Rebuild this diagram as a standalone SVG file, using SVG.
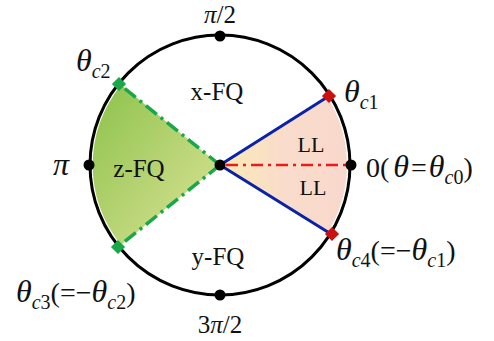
<svg xmlns="http://www.w3.org/2000/svg" width="494" height="341" viewBox="0 0 494 341">
<defs>
<linearGradient id="gG" x1="0" y1="0" x2="1" y2="1">
<stop offset="0" stop-color="#8cc24a"/>
<stop offset="1" stop-color="#dfe49a"/>
</linearGradient>
<linearGradient id="gP" x1="0" y1="0" x2="1" y2="0">
<stop offset="0" stop-color="#fbeab4"/>
<stop offset="0.5" stop-color="#f9dccb"/>
<stop offset="1" stop-color="#f8d8cc"/>
</linearGradient>
<style>
text{font-family:"Liberation Serif","Times New Roman",serif;fill:#111}
.lab{font-size:25px}
.th{font-size:32px;font-style:italic}
.sub{font-size:20px;font-style:italic}
.n{font-style:normal}
.blue{stroke:#0a22a8;stroke-width:3;fill:none}
.green{stroke:#18a84a;stroke-width:3.5;fill:none;stroke-dasharray:14 5 3 5}
.red{stroke:#e81c1c;stroke-width:2.5;fill:none;stroke-dasharray:12 5 3 5}
</style>
</defs>
<rect width="494" height="341" fill="#fff"/>
<g id="sectors">
<path d="M220,165 L121,85 A127,127 0 0 0 121,245 Z" fill="url(#gG)"/>
<path d="M220,165 L327.7,97.7 A127,127 0 0 1 327.7,232.3 Z" fill="url(#gP)"/>
</g>
<g id="circle">
<circle cx="220" cy="165" r="130" fill="none" stroke="#000" stroke-width="3"/>
</g>
<g id="connectors">
<line class="blue" x1="220" y1="165" x2="329" y2="96"/>
<line class="blue" x1="220" y1="165" x2="331" y2="234"/>
<line class="green" x1="220" y1="165" x2="119" y2="84"/>
<line class="green" x1="220" y1="165" x2="118" y2="247"/>
<line class="red" x1="226" y1="165" x2="350" y2="165"/>
</g>
<g id="points">
<circle cx="220" cy="36" r="5.5" fill="#000"/>
<circle cx="220" cy="295" r="5.5" fill="#000"/>
<circle cx="89" cy="165" r="5.5" fill="#000"/>
<circle cx="351" cy="165" r="5.5" fill="#000"/>
<circle cx="220" cy="165" r="5.5" fill="#000"/>
<rect x="-5" y="-5" width="10" height="10" fill="#cc1010" transform="translate(329,96) rotate(45)"/>
<rect x="-5" y="-5" width="10" height="10" fill="#cc1010" transform="translate(332,234) rotate(45)"/>
<rect x="-5" y="-5" width="10" height="10" fill="#18a84a" transform="translate(119,84) rotate(45)"/>
<rect x="-5" y="-5" width="10" height="10" fill="#18a84a" transform="translate(118,247) rotate(45)"/>
</g>
<g id="labels">
<text x="220" y="23" text-anchor="middle" font-size="25"><tspan font-style="italic">π</tspan>/2</text>
<text x="220" y="333" text-anchor="middle" font-size="25">3<tspan font-style="italic">π</tspan>/2</text>
<text x="53" y="175" class="th" font-size="35">π</text>
<text x="217" y="100" class="lab" text-anchor="middle">x-FQ</text>
<text x="139" y="177" class="lab" text-anchor="middle">z-FQ</text>
<text x="218" y="265" class="lab" text-anchor="middle">y-FQ</text>
<text x="311" y="152" font-size="22" text-anchor="middle">LL</text>
<text x="313" y="195" font-size="22" text-anchor="middle">LL</text>
<text x="76" y="71"><tspan class="th">θ</tspan><tspan class="sub" dy="7">c<tspan class="n">2</tspan></tspan></text>
<text x="344" y="102"><tspan class="th">θ</tspan><tspan class="sub" dy="7">c<tspan class="n">1</tspan></tspan></text>
<text x="366" y="177" font-size="28">0(<tspan class="th" dx="4">θ</tspan><tspan dx="2">=</tspan><tspan class="th" dx="2">θ</tspan><tspan class="sub" dy="7">c<tspan class="n">0</tspan></tspan><tspan dy="-7">)</tspan></text>
<text x="336" y="260" font-size="28"><tspan class="th">θ</tspan><tspan class="sub" dy="7">c<tspan class="n">4</tspan></tspan><tspan dy="-7">(=−</tspan><tspan class="th">θ</tspan><tspan class="sub" dy="7">c<tspan class="n">1</tspan></tspan><tspan dy="-7">)</tspan></text>
<text x="16" y="302" font-size="28"><tspan class="th">θ</tspan><tspan class="sub" dy="7">c<tspan class="n">3</tspan></tspan><tspan dy="-7">(=−</tspan><tspan class="th">θ</tspan><tspan class="sub" dy="7">c<tspan class="n">2</tspan></tspan><tspan dy="-7">)</tspan></text>
</g>
</svg>
